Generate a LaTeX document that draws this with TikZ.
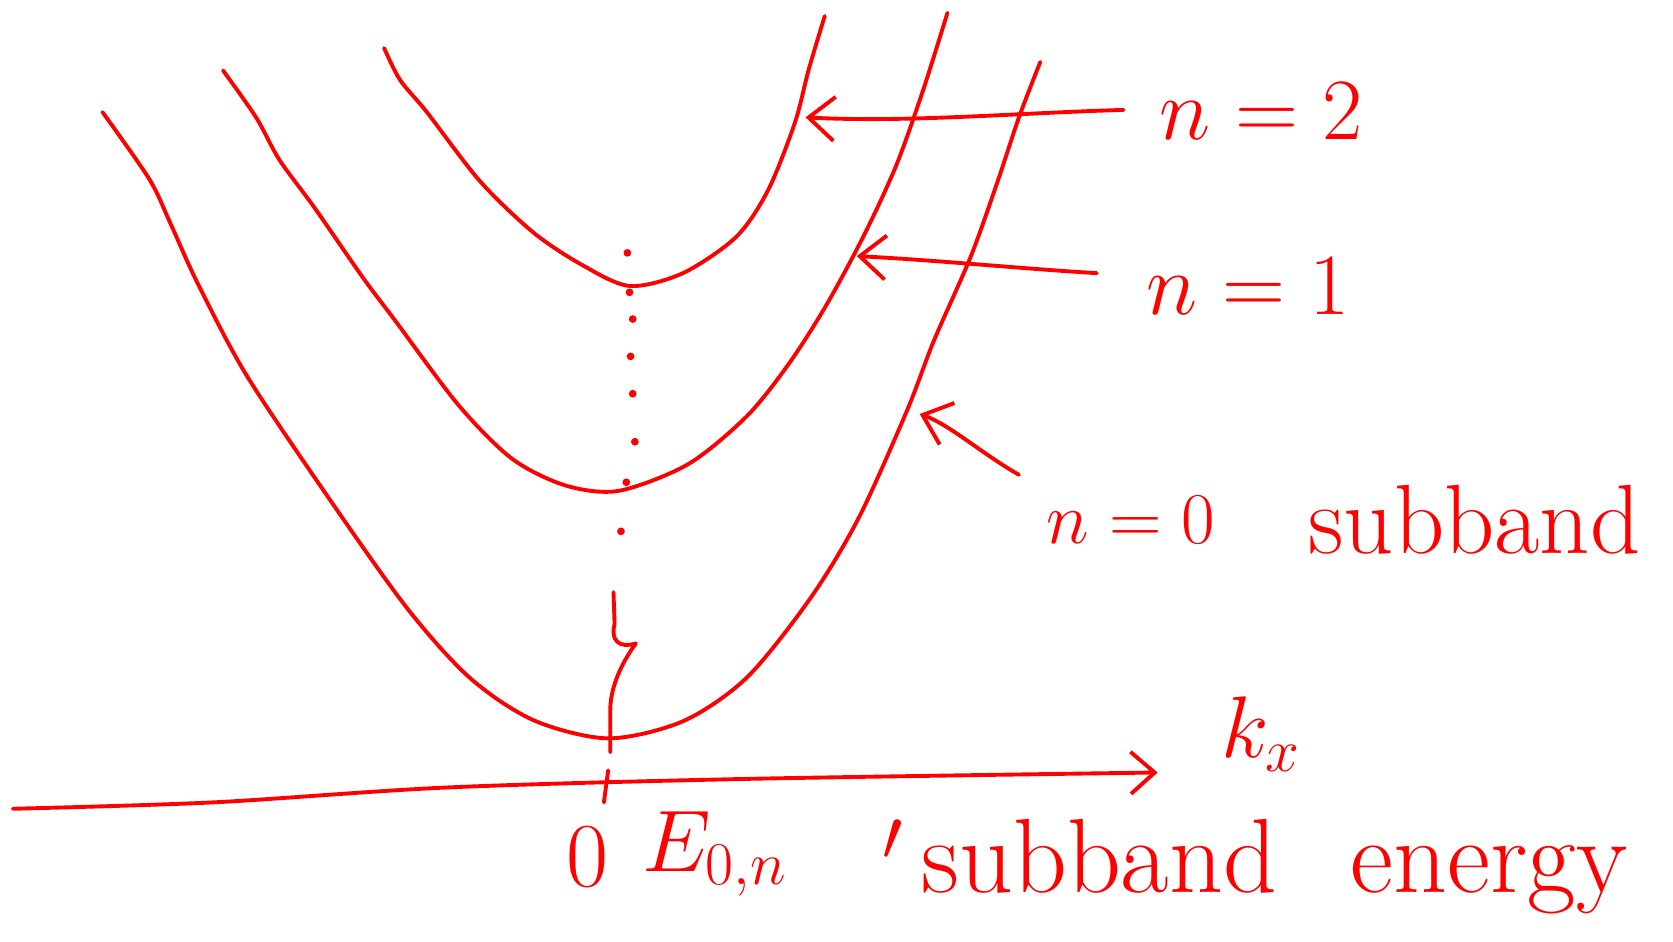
\documentclass[tikz,border=0pt]{standalone}
\usetikzlibrary{arrows.meta}
\definecolor{ink}{RGB}{255,0,0}
\begin{document}
\begin{tikzpicture}[x=0.01067cm,y=-0.01067cm,
  ink/.style={draw=ink, line width=1.1pt, line cap=round, line join=round},
  curve/.style={ink},
  conn/.style={ink, -{Straight Barb[length=2.6mm,width=4.4mm]}},
  lbl/.style={text=ink, font=\fontsize{26}{31}\selectfont, inner sep=0pt},
  dot/.style={fill=ink, circle, inner sep=0pt, minimum size=2.2pt}]
\useasboundingbox (0,0) rectangle (1568,882);

% subband parabolas
\draw[curve] plot[smooth] coordinates {(96,105) (140,168) (160,210) (185,265) (230,350) (300,455) (380,568) (440,635) (500,675) (570,692) (640,676) (700,635) (760,560) (805,485) (850,385) (875,320) (910,240) (935,170) (955,110) (975,58)};
\draw[curve] plot[smooth] coordinates {(209,66) (240,110) (262,150) (295,195) (340,260) (370,300) (430,380) (480,430) (530,455) (580,460) (645,435) (700,390) (740,340) (775,285) (810,220) (840,155) (865,85) (888,12)};
\draw[curve] plot[smooth] coordinates {(360,45) (375,75) (400,105) (450,170) (500,218) (545,248) (590,268) (640,256) (690,222) (720,178) (745,115) (758,65) (773,15)};

% dotted line through minima
\foreach \p/\q [count=\i] in {588/237,590/274,593/299,591/334,593/369,595/414,587/452,582/498}
  \node[dot] (d\i) at (\p,\q) {};

% labels
\node[lbl] (n2) at (1182,104) {$n=2$};
\node[lbl] (n1) at (1170,268) {$n=1$};
\node[lbl, font=\fontsize{21}{25}\selectfont] (n0) at (1060,487) {$n=0$};
\node[lbl, font=\fontsize{28}{33}\selectfont] (sb) at (1382,487) {subband};
\node[lbl] (kx) at (1182,688) {$k_x$};
\node[lbl] (zero) at (551,803) {0};
\node[lbl] (E) at (670,800) {$E_{0,n}$};
\node[lbl, font=\fontsize{30}{36}\selectfont] (se) at (1176,812) {$'$\,subband\hspace{0.7em}energy};

% connector end points
\coordinate (s2) at (1053,103);
\coordinate (t2) at (755,110);
\coordinate (s1) at (1028,256);
\coordinate (t1) at (803,240);
\coordinate (s0) at (955,445);
\coordinate (t0) at (862,388);
\coordinate (sm) at (575,555);
\coordinate (tm) at (572,705);

\draw[conn] (s2) .. controls (950,106) and (850,115) .. (t2);
\draw[conn] (s1) .. controls (960,252) and (880,244) .. (t1);
\draw[conn] (s0) .. controls (920,425) and (890,398) .. (t0);
\draw[ink] (sm) -- (576,585) .. controls (572,600) and (580,608) .. (596,603)
  .. controls (582,622) and (572,645) .. (572,665) -- (tm);

% k_x axis
\draw[ink, -{Straight Barb[length=2.4mm,width=4.2mm]}] plot[smooth] coordinates {(12,758) (200,752) (420,738) (700,730) (1085,724)};
\draw[ink] (570,722) -- (566,752);
\end{tikzpicture}
\end{document}
